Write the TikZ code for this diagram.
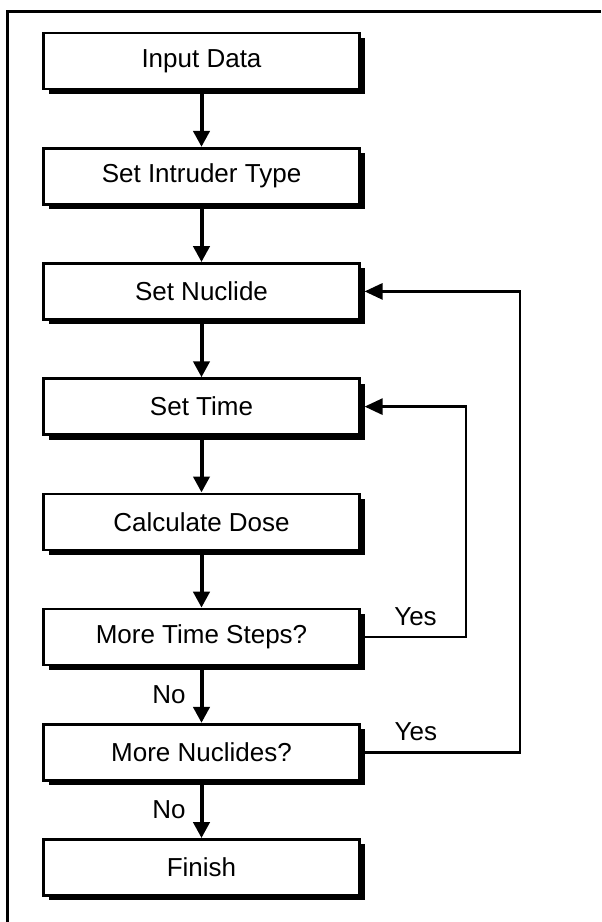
\documentclass[tikz,border=0pt]{standalone}
\usepackage{fontspec}
\setmainfont{Liberation Sans}
\usetikzlibrary{arrows.meta,shadows}

\begin{document}
\begin{tikzpicture}[x=.5pt,y=-.5pt,
	stepbox/.style={draw=black,fill=white,line width=1.3pt,minimum width=158pt,minimum height=28pt,inner sep=0pt,font=\fontsize{13}{15}\selectfont,drop shadow={shadow xshift=2.5pt,shadow yshift=-2.5pt,fill=black,opacity=1}},
	flow/.style={line width=2pt,-{Triangle[length=8pt,width=8pt]}},
	back/.style={line width=1.4pt,-{Triangle[length=9pt,width=8pt]},shorten >=1.9pt},
	lbl/.style={font=\fontsize{13}{15}\selectfont,inner sep=1pt}]
	\useasboundingbox (0,0) rectangle (601,922);
	\draw[line width=1.5pt] (7.5,922) -- (7.5,11.5) -- (601,11.5);
	\node[stepbox] (input) at (201.5,61){Input Data};
	\node[stepbox] (intruder) at (201.5,176.2){Set Intruder Type};
	\node[stepbox] (nuclide) at (201.5,291.4){Set Nuclide};
	\node[stepbox] (time) at (201.5,406.6){Set Time};
	\node[stepbox] (dose) at (201.5,521.8){Calculate Dose};
	\node[stepbox] (moretime) at (201.5,637){More Time Steps?};
	\node[stepbox] (morenuc) at (201.5,752.2){More Nuclides?};
	\node[stepbox] (finish) at (201.5,867.4){Finish};
	\coordinate (t) at (466,406.6);
	\coordinate (n) at (520,291.4);
	\draw[flow] (input) -- (intruder);
	\draw[flow] (intruder) -- (nuclide);
	\draw[flow] (nuclide) -- (time);
	\draw[flow] (time) -- (dose);
	\draw[flow] (dose) -- (moretime);
	\draw[flow] (moretime) -- node[lbl,left=6pt]{No} (morenuc);
	\draw[flow] (morenuc) -- node[lbl,left=6pt]{No} (finish);
	\draw[back] (moretime.east) -| node[lbl,pos=.26,above=4pt]{Yes} (t) -- (time.east);
	\draw[back] (morenuc.east) -| node[lbl,pos=.173,above=4pt]{Yes} (n) -- (nuclide.east);
\end{tikzpicture}
\end{document}
